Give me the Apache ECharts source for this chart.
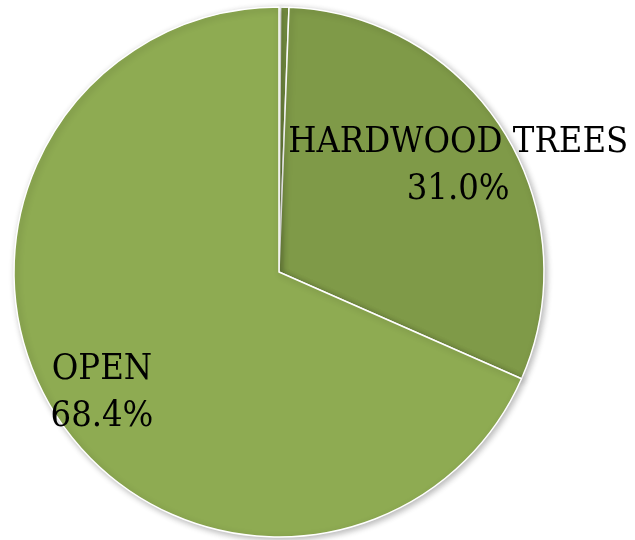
<!DOCTYPE html>
<html>
<head>
<meta charset="utf-8">
<script src="https://cdn.jsdelivr.net/npm/echarts@6/dist/echarts.min.js"></script>
<style>
  html, body { margin: 0; padding: 0; background: #ffffff; }
  #chart { width: 635px; height: 540px; }
</style>
</head>
<body>
<div id="chart"></div>
<script>
// Land cover shares (percent), clockwise from 12 o'clock
const categories = ['OTHER', 'WATER', 'HARDWOOD TREES', 'OPEN'];
const shares = [0.1, 0.5, 31.0, 68.4];
const sliceColors = ['#86a24d', '#7f9a48', '#7f9a48', '#8eab52'];
const labelled = ['HARDWOOD TREES', 'OPEN'];

const CX = 279, CY = 272, R = 265;
const LABEL_RATIO = 0.78;

const chart = echarts.init(document.getElementById('chart'), null, { renderer: 'canvas' });

chart.setOption({
  backgroundColor: '#ffffff',
  animation: false,
  series: [{
    type: 'pie',
    center: [CX, CY],
    radius: [0, R],
    startAngle: 90,
    clockwise: true,
    avoidLabelOverlap: false,
    itemStyle: {
      borderColor: '#ffffff',
      borderWidth: 1.5,
      shadowBlur: 6,
      shadowOffsetX: 2,
      shadowOffsetY: 2,
      shadowColor: 'rgba(0,0,0,0.28)'
    },
    label: {
      show: true,
      position: 'inside',
      fontFamily: '"DejaVu Serif Condensed", "Liberation Serif", serif',
      fontSize: 36,
      lineHeight: 47,
      color: '#000000',
      align: 'center',
      formatter: p => labelled.includes(p.name) ? p.name + '\n' + p.value.toFixed(1) + '%' : ''
    },
    labelLine: { show: false },
    // push the inside labels outward along each slice's bisector
    labelLayout: function (params) {
      const r = params.labelRect;
      const lx = r.x + r.width / 2, ly = r.y + r.height / 2;
      const k = LABEL_RATIO / 0.5;
      return { x: CX + (lx - CX) * k, y: CY + (ly - CY) * k + 6, align: 'center', verticalAlign: 'middle' };
    },
    emphasis: { disabled: true },
    data: categories.map((c, i) => ({
      name: c,
      value: shares[i],
      itemStyle: { color: sliceColors[i] }
    }))
  }]
});
</script>
</body>
</html>
